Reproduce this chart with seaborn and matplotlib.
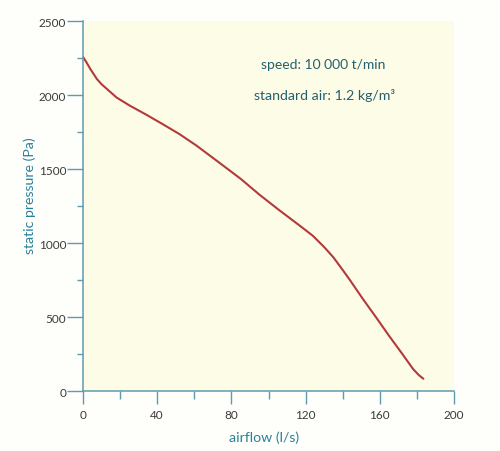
import numpy as np
import pandas as pd
import seaborn as sns
import matplotlib.pyplot as plt
from matplotlib.ticker import MultipleLocator

# fan curve
airflow = [0, 2, 4, 7.5, 10, 13, 18, 25, 34, 43, 52, 61, 74, 85, 95, 106, 117, 124,
           130, 135, 140, 144, 151, 158, 165, 172, 178, 181, 183.5]
pressure = [2260, 2220, 2177, 2110, 2075, 2042, 1986, 1932, 1870, 1805, 1738, 1662, 1540, 1436, 1330, 1222,
            1118, 1050, 975, 905, 820, 750, 622, 500, 375, 255, 150, 110, 85]

x_ticks = [0, 40, 80, 120, 160, 200]
y_ticks = [0, 500, 1000, 1500, 2000, 2500]

df = pd.DataFrame({"airflow": airflow, "pressure": pressure})

sns.set_theme(style="white")
plt.rcParams['font.family'] = ['Lato', 'DejaVu Sans']

teal = "#2a8099"
spine_col = "#5f9bb0"
text_col = "#235f70"

fig = plt.figure(figsize=(5, 4.52), dpi=100)
fig.patch.set_facecolor("#fefefb")
ax = fig.add_axes([0.166, 0.132, 0.742, 0.8186])
ax.set_facecolor("#fdfce6")

sns.lineplot(data=df, x="airflow", y="pressure", ax=ax, color="#b23a3c",
             linewidth=1.5, solid_joinstyle="round", solid_capstyle="round")

ax.set_xlim(0, 200)
ax.set_ylim(0, 2500)
ax.set_xticks(x_ticks)
ax.set_yticks(y_ticks)
ax.xaxis.set_minor_locator(MultipleLocator(20))
ax.yaxis.set_minor_locator(MultipleLocator(250))

for s in ["top", "right"]:
    ax.spines[s].set_visible(False)
for s in ["left", "bottom"]:
    ax.spines[s].set_color(spine_col)
    ax.spines[s].set_linewidth(1.1)

ax.tick_params(axis="y", which="major", direction="out", length=11.5, width=1.0,
               color=spine_col, labelsize=8.5, labelcolor="#3a3a3a", pad=0.5, left=True)
ax.tick_params(axis="y", which="minor", direction="out", length=4.3, width=1.0,
               color=spine_col, left=True)
ax.tick_params(axis="x", which="major", direction="out", length=9.4, width=1.0,
               color=spine_col, labelsize=8.5, labelcolor="#3a3a3a", pad=3, bottom=True)
ax.tick_params(axis="x", which="minor", direction="out", length=5.8, width=1.0,
               color=spine_col, bottom=True)

ax.set_xlabel("airflow (l/s)", color=teal, fontsize=10.2)
ax.set_ylabel("static pressure (Pa)", color=teal, fontsize=10.2)
ax.xaxis.set_label_coords(0.488, -0.105)
ax.yaxis.set_label_coords(-0.127, 0.532)

ax.text(0.647, 0.884, "speed: 10 000 t/min", transform=ax.transAxes,
        ha="center", va="center", color=text_col, fontsize=10)
ax.text(0.652, 0.803, "standard air: 1.2 kg/m³", transform=ax.transAxes,
        ha="center", va="center", color=text_col, fontsize=10.2)

fig.savefig("out.png", dpi=100, facecolor=fig.get_facecolor())
